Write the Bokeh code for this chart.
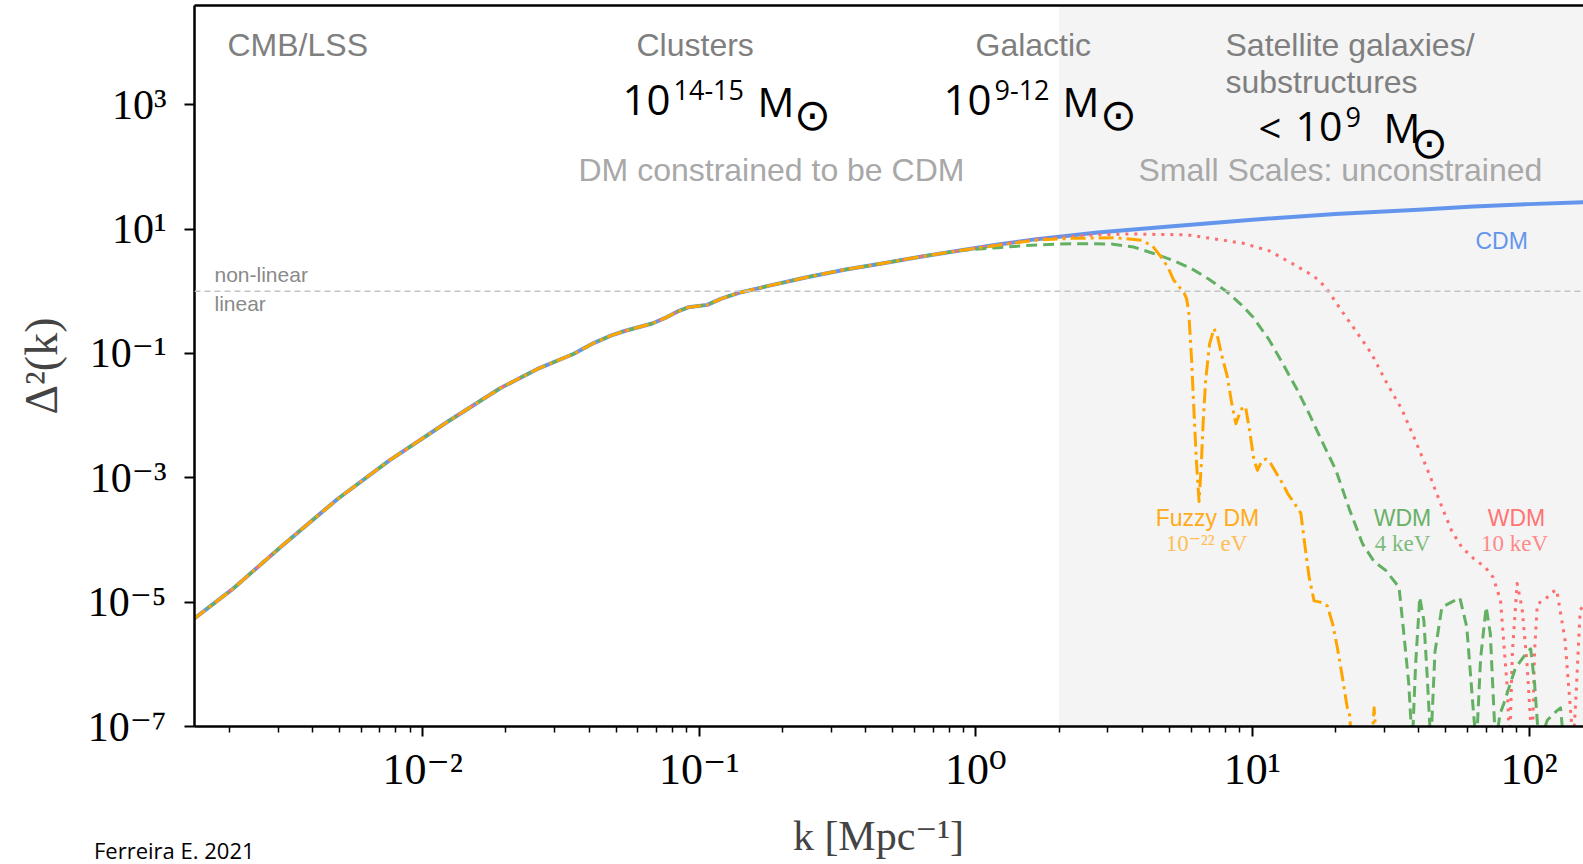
import numpy as np
from bokeh.plotting import figure
from bokeh.layouts import column
from bokeh.models import (BoxAnnotation, Span, Label, FixedTicker, LogAxis,
                          CustomJSTickFormatter, Range1d, Div)
from bokeh.embed import file_html
from bokeh.resources import INLINE

# ---------------------------------------------------------------------------
# Dimensionless power spectrum Delta^2(k), values as log10(k / Mpc^-1) and
# log10(Delta^2).  All models coincide on large scales (shared part).
# ---------------------------------------------------------------------------
logk_shared = [-2.83, -2.69, -2.51, -2.31, -2.12, -1.91, -1.72, -1.58, -1.455,
               -1.38, -1.317, -1.27, -1.22, -1.17, -1.123, -1.08, -1.04,
               -0.971, -0.92, -0.86, -0.75, -0.611, -0.47, -0.334, -0.2, -0.058]
logd_shared = [-5.28, -4.80, -4.10, -3.35, -2.72, -2.10, -1.56, -1.24, -1.01,
               -0.83, -0.71, -0.64, -0.58, -0.52, -0.43, -0.33, -0.26,
               -0.22, -0.12, -0.03, 0.085, 0.225, 0.35, 0.45, 0.555, 0.654]

# CDM
logk_cdm = [0.08, 0.219, 0.44, 0.7, 1.0, 1.3, 1.6, 1.8, 2.0, 2.2]
logd_cdm = [0.75, 0.837, 0.944, 1.04, 1.15, 1.24, 1.31, 1.36, 1.40, 1.43]

# Fuzzy DM, m = 1e-22 eV
logk_fdm = [0.08, 0.219, 0.35, 0.5, 0.6, 0.64, 0.668, 0.695, 0.715, 0.735,
            0.753, 0.762, 0.77, 0.78, 0.789, 0.797, 0.807, 0.815, 0.822,
            0.831, 0.845, 0.861, 0.875, 0.89, 0.909, 0.925, 0.94, 0.955,
            0.966, 0.976, 0.99, 1.005, 1.018, 1.035, 1.05, 1.066, 1.09, 1.11,
            1.127, 1.15, 1.175, 1.19, 1.205, 1.223, 1.245, 1.271, 1.29, 1.307,
            1.325, 1.343, 1.35, 1.362, 1.43, 1.44, 1.45, 2.22]
logd_fdm = [0.74, 0.82, 0.85, 0.86, 0.82, 0.72, 0.56, 0.38, 0.18, 0.07,
            -0.03, -0.12, -0.35, -1.1, -1.96, -2.7, -3.38, -2.8, -2.1,
            -1.43, -0.85, -0.6, -0.75, -1.05, -1.37, -1.8, -2.13, -1.95,
            -1.85, -1.88, -2.25, -2.7, -2.88, -2.72, -2.7, -2.77, -2.95, -3.1,
            -3.25, -3.4, -3.57, -4.1, -4.6, -4.98, -5.0, -5.06, -5.35, -5.73,
            -6.2, -6.7, -6.75, -7.4, -7.4, -6.7, -7.4, -8.0]

# WDM, 4 keV
logk_wdm4 = [0.08, 0.2, 0.35, 0.49, 0.57, 0.64, 0.71, 0.777, 0.84, 0.905,
             0.96, 1.001, 1.06, 1.109, 1.16, 1.205, 1.25, 1.302, 1.35, 1.398,
             1.44, 1.482, 1.53, 1.545, 1.565, 1.578, 1.59, 1.605, 1.62, 1.632,
             1.645, 1.66, 1.685, 1.72, 1.75, 1.775, 1.80, 1.81, 1.825, 1.845,
             1.86, 1.879, 1.895, 1.909, 1.95, 1.985, 2.006, 2.02, 2.036, 2.066,
             2.10, 2.114, 2.126, 2.22]
logd_wdm4 = [0.70, 0.74, 0.765, 0.76, 0.71, 0.61, 0.50, 0.37, 0.2, 0.0,
             -0.22, -0.41, -0.78, -1.16, -1.57, -1.97, -2.4, -2.88, -3.5, -4.06,
             -4.35, -4.49, -4.76, -5.4, -6.3, -7.3, -6.0, -4.92, -5.3, -6.2,
             -7.3, -5.8, -5.08, -5.0, -4.93, -5.4, -6.82, -7.3, -5.9, -5.08,
             -5.5, -7.3, -6.8, -6.63, -6.07, -5.85, -5.75, -6.3, -7.3, -6.9,
             -6.75, -6.7, -7.3, -7.5]

# WDM, 10 keV
logk_wdm10 = [0.08, 0.219, 0.4, 0.55, 0.766, 0.967, 1.06, 1.142, 1.2, 1.24,
              1.275, 1.32, 1.371, 1.43, 1.48, 1.54, 1.589, 1.64, 1.685, 1.72,
              1.757, 1.8, 1.842, 1.87, 1.897, 1.921, 1.93, 1.94, 1.957, 1.975,
              1.993, 2.006, 2.012, 2.02, 2.03, 2.06, 2.08, 2.1, 2.13, 2.16,
              2.17, 2.185, 2.22]
logd_wdm10 = [0.75, 0.835, 0.9, 0.92, 0.906, 0.77, 0.65, 0.45, 0.3, 0.18,
              0.0, -0.3, -0.62, -1.0, -1.43, -1.9, -2.4, -2.95, -3.47, -3.85,
              -4.12, -4.3, -4.44, -4.6, -4.97, -6.36, -7.3, -5.8, -4.7, -5.1,
              -6.0, -6.95, -7.3, -5.8, -5.03, -4.95, -4.85, -4.8, -5.6, -7.3,
              -6.5, -5.13, -4.9]

x_tick_values = [1e-2, 1e-1, 1e0, 1e1, 1e2]
y_tick_values = [1e-7, 1e-5, 1e-3, 1e-1, 1e1, 1e3]

def curve(lk, ld):
    return 10 ** np.array(logk_shared + lk), 10 ** np.array(logd_shared + ld)

# ---------------------------------------------------------------------------
# Figure geometry
# ---------------------------------------------------------------------------
W, H = 1583, 864
FL, FT, FB = 194, 5, 726          # frame left / top / bottom in pixels
FW, FH = W - FL, FB - FT
LX0, LX1 = -2.825, 2.197
LY0, LY1 = -7.0, 4.594

def at(px, py):
    """pixel position on the canvas -> data coordinates"""
    lx = LX0 + (px - FL) / FW * (LX1 - LX0)
    ly = LY1 - (py - FT) / FH * (LY1 - LY0)
    return 10 ** lx, 10 ** ly

p = figure(width=W, height=H, x_axis_type="log", y_axis_type="log",
           x_range=Range1d(10 ** LX0, 10 ** LX1),
           y_range=Range1d(10 ** LY0, 10 ** LY1),
           output_backend="svg", toolbar_location=None,
           min_border_left=FL, min_border_right=0, min_border_top=FT,
           min_border_bottom=H - FB, outline_line_color=None,
           background_fill_color="white", border_fill_color="white")
p.xgrid.visible = False
p.ygrid.visible = False

# small-scale region
p.add_layout(BoxAnnotation(left=2.0, fill_color="#f4f4f4", fill_alpha=1.0,
                           line_color=None, level="underlay"))
# non-linear / linear boundary
p.add_layout(Span(location=1.0, dimension="width", line_color="#c4c4c4",
                  line_dash="6 4", line_width=1.5))

k, d = curve(logk_cdm, logd_cdm)
p.line(k, d, line_color="#6495ED", line_width=4, line_join="round")
k, d = curve(logk_wdm10, logd_wdm10)
p.line(k, d, line_color="#ff6e6e", line_width=3, line_dash="3 6",
       line_join="round")
k, d = curve(logk_wdm4, logd_wdm4)
p.line(k, d, line_color="#63b063", line_width=3, line_dash="11 6",
       line_join="round")
k, d = curve(logk_fdm, logd_fdm)
p.line(k, d, line_color="#FFA500", line_width=3, line_dash="15 5 3 5",
       line_join="round")

# ---------------------------------------------------------------------------
# Axes
# ---------------------------------------------------------------------------
pow_fmt = CustomJSTickFormatter(code="""
const sup = {"-": "\u207b", "0": "\u2070", "1": "\u00b9", "2": "\u00b2",
             "3": "\u00b3", "4": "\u2074", "5": "\u2075", "6": "\u2076",
             "7": "\u2077", "8": "\u2078", "9": "\u2079"};
const e = Math.round(Math.log10(tick));
return "10" + String(e).split("").map(c => sup[c]).join("");
""")
serif = "'Liberation Serif', 'DejaVu Serif', serif"

minor = [m * 10.0 ** e for e in range(-3, 3) for m in range(2, 10)]
xa = p.xaxis[0]
xa.ticker = FixedTicker(ticks=x_tick_values, minor_ticks=minor)
xa.formatter = pow_fmt
xa.axis_line_width = 2.5
xa.major_tick_line_width = 2
xa.major_tick_out = 10
xa.major_tick_in = 0
xa.minor_tick_line_width = 1.5
xa.minor_tick_out = 6
xa.minor_tick_in = 0
xa.major_label_text_font = serif
xa.major_label_text_font_size = "44px"
xa.major_label_text_color = "black"
xa.major_label_standoff = 8
xa.axis_label = "k   [Mpc\u207b\u00b9]"
xa.axis_label_text_font = serif
xa.axis_label_text_font_size = "42px"
xa.axis_label_text_font_style = "normal"
xa.axis_label_standoff = 16

ya = p.yaxis[0]
ya.ticker = FixedTicker(ticks=y_tick_values, minor_ticks=[])
ya.formatter = pow_fmt
ya.axis_line_width = 2.5
ya.major_tick_line_width = 2
ya.major_tick_out = 10
ya.major_tick_in = 0
ya.minor_tick_line_color = None
ya.major_label_text_font = serif
ya.major_label_text_font_size = "42px"
ya.major_label_text_color = "black"
ya.major_label_standoff = 18
ya.axis_label = "\u0394\u00b2(k)"
ya.axis_label_text_font = serif
ya.axis_label_text_font_size = "46px"
ya.axis_label_text_font_style = "normal"
ya.axis_label_standoff = 18

top = LogAxis(axis_line_width=2.5, axis_line_color="black",
              ticker=FixedTicker(ticks=[]), major_tick_out=0, major_tick_in=0,
              minor_tick_out=0, minor_tick_in=0, major_label_standoff=0,
              major_label_text_font_size="0px")
p.add_layout(top, "above")

# ---------------------------------------------------------------------------
# Annotations (px = left edge / centre, py = text baseline, in canvas pixels)
# ---------------------------------------------------------------------------
def label(text, px, py, size, font="Liberation Sans", color="#7f7f7f",
          align="left", baseline="alphabetic"):
    if baseline == "alphabetic":
        py = py - 0.385 * size      # rendered baseline sits lower; compensate
    x, y = at(px, py)
    p.add_layout(Label(x=x, y=y, text=text, text_font=font,
                       text_font_size=f"{size}px", text_color=color,
                       text_align=align, text_baseline=baseline))

grey, light = "#7f7f7f", "#a8a8a8"
label("CMB/LSS", 227, 57, 32, color=grey)
label("Clusters", 636, 57, 32, color=grey)
label("Galactic", 975, 57, 32, color=grey)
label("Satellite galaxies/", 1225, 57, 32, color=grey)
label("substructures", 1225, 94, 32, color=grey)
label("DM constrained to be CDM", 578, 182, 32, color=light)
label("Small Scales: unconstrained", 1138, 182, 32, color=light)

mass_font = "Open Sans"
sun = "\u2299"
# 10^{14-15} Msun
label("10", 622, 116, 42, font=mass_font, color="black")
label("14-15", 673, 100, 27, font=mass_font, color="black")
label("M", 757, 116, 41, font=mass_font, color="black")
label(sun, 812, 114, 44, font="DejaVu Sans", color="black", align="center",
      baseline="middle")
# 10^{9-12} Msun
label("10", 943, 116, 42, font=mass_font, color="black")
label("9-12", 994, 100, 27, font=mass_font, color="black")
label("M", 1062, 116, 41, font=mass_font, color="black")
label(sun, 1118, 114, 44, font="DejaVu Sans", color="black", align="center",
      baseline="middle")
# < 10^9 Msun
label("<", 1258, 142, 40, font=mass_font, color="black")
label("10", 1295, 142, 41, font=mass_font, color="black")
label("9", 1345, 127, 27, font=mass_font, color="black")
label("M", 1383, 142, 41, font=mass_font, color="black")
label(sun, 1429, 142, 44, font="DejaVu Sans", color="black", align="center",
      baseline="middle")

label("non-linear", 214, 282, 21, color="#8a8a8a")
label("linear", 214, 311, 21, color="#8a8a8a")

label("CDM", 1475, 249, 23, color="#6495ED")
label("Fuzzy DM", 1207, 526, 23, color="#ffab1a", align="center")
label("10\u207b\u00b2\u00b2 eV", 1206, 552, 23, font=serif, color="#ffbe55",
      align="center")
label("WDM", 1402, 526, 23, color="#69b069", align="center")
label("4 keV", 1402, 552, 23, font=serif, color="#7cbb7c", align="center")
label("WDM", 1516, 526, 23, color="#ff7474", align="center")
label("10 keV", 1514, 552, 23, font=serif, color="#ff8a8a", align="center")

# source note, tucked into the bottom-left corner below the axis
NOTE_H = 28
note = Div(text="Ferreira E. 2021", width=320, height=NOTE_H,
           margin=(-NOTE_H, 0, 0, 94),
           styles={"font-family": "'Open Sans', sans-serif",
                   "font-size": "22px", "color": "black",
                   "line-height": f"{NOTE_H}px", "white-space": "nowrap"})

page = column(p, note, spacing=0)
open("out.html", "w").write(file_html(page, INLINE))
